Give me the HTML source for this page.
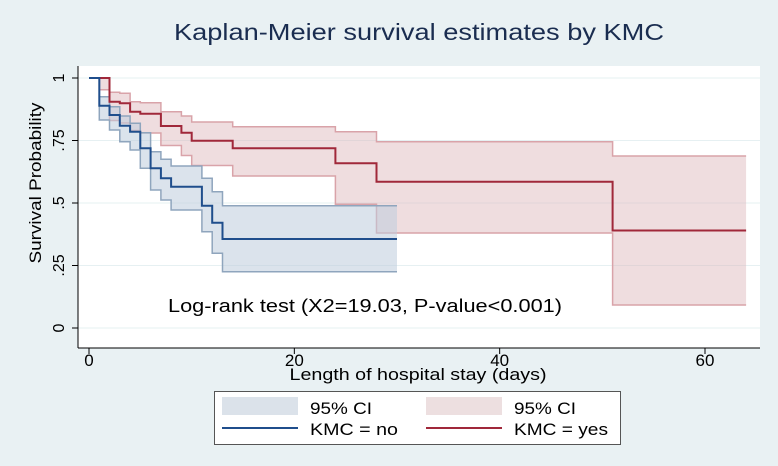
<!DOCTYPE html>
<html><head><meta charset="utf-8"><style>
body{margin:0;width:778px;height:466px;background:#e9f1f3;overflow:hidden;font-family:"Liberation Sans",sans-serif}
svg{display:block}
</style></head><body>
<svg id="c" width="778" height="466">
<rect x="78" y="66" width="682" height="282" fill="#fff"/>
<text x="419" y="40" text-anchor="middle" font-size="23" fill="#1a2d50" textLength="490" lengthAdjust="spacingAndGlyphs">Kaplan-Meier survival estimates by KMC</text>
<text transform="translate(41,183) rotate(-90)" text-anchor="middle" font-size="17" fill="#000" textLength="161" lengthAdjust="spacingAndGlyphs">Survival Probability</text>
<text x="418" y="380" text-anchor="middle" font-size="17" fill="#000" textLength="257" lengthAdjust="spacingAndGlyphs">Length of hospital stay (days)</text>
<text x="365" y="312" text-anchor="middle" font-size="18" fill="#000" textLength="394" lengthAdjust="spacingAndGlyphs">Log-rank test (X2=19.03, P-value&lt;0.001)</text>
<g id="grid"></g><g id="bands"></g><g id="lines"></g><g id="axes"></g>
<g>
<rect x="214.5" y="391.5" width="406" height="53" fill="#fff" stroke="#555"/>
<rect x="222" y="397" width="76" height="18" fill="#dbe2ea"/>
<text x="310" y="414" font-size="17" textLength="62" lengthAdjust="spacingAndGlyphs">95% CI</text>
<rect x="426" y="397" width="76" height="18" fill="#eddfe0"/>
<text x="514" y="414" font-size="17" textLength="62" lengthAdjust="spacingAndGlyphs">95% CI</text>
<line x1="222" y1="428" x2="298" y2="428" stroke="#1f4e8c" stroke-width="2"/>
<text x="310" y="435" font-size="17" textLength="88" lengthAdjust="spacingAndGlyphs">KMC = no</text>
<line x1="426" y1="428" x2="502" y2="428" stroke="#a0283a" stroke-width="2"/>
<text x="514" y="435" font-size="17" textLength="94" lengthAdjust="spacingAndGlyphs">KMC = yes</text>
</g>
</svg>
<script>
const noTimes=[0,1,2,3,4,5,6,7,8,11,12,13,30];
const noSurv=[1,0.889,0.852,0.809,0.785,0.719,0.639,0.599,0.565,0.489,0.421,0.356,0.356];
const noUpper=[1,0.925,0.885,0.848,0.819,0.781,0.705,0.675,0.648,0.599,0.545,0.489,0.489];
const noLower=[1,0.832,0.792,0.745,0.712,0.639,0.552,0.512,0.472,0.385,0.299,0.225,0.225];
const yesTimes=[0,1,2,3,4,5,7,9,10,14,24,28,51,64];
const yesSurv=[1,1,0.905,0.899,0.865,0.857,0.808,0.781,0.749,0.719,0.659,0.585,0.39,0.39];
const yesUpper=[1,1,0.943,0.939,0.905,0.901,0.865,0.848,0.824,0.805,0.785,0.745,0.688,0.688];
const yesLower=[1,0.953,0.83,0.82,0.79,0.78,0.73,0.69,0.65,0.608,0.495,0.38,0.092,0.092];
const xTicks=[0,20,40,60];
const yTicks=[0,0.25,0.5,0.75,1];
const yTickLabels=["0",".25",".5",".75","1"];
const X=t=>89+t*(705-89)/60, Y=s=>328-s*250;
const NS="http://www.w3.org/2000/svg";
function mk(tag,attrs,parent){const e=document.createElementNS(NS,tag);for(const k in attrs)e.setAttribute(k,attrs[k]);document.getElementById(parent).appendChild(e);return e;}
function stepPts(ts,ss){let p=[];for(let i=0;i<ts.length;i++){if(i>0)p.push([X(ts[i]),Y(ss[i-1])]);p.push([X(ts[i]),Y(ss[i])]);}return p;}
function str(p){return p.map(q=>q[0].toFixed(1)+","+q[1].toFixed(1)).join(" ");}
yTicks.forEach((v,i)=>{
 let g=mk("line",{x1:78,x2:760,y1:Y(v),y2:Y(v),stroke:"#e6f0f2","stroke-width":1},"grid");
 
 
 let tk=mk("line",{x1:72,x2:78,y1:Y(v),y2:Y(v),stroke:"#000"},"axes");
 
 
 let t=mk("text",{transform:`translate(64,${Y(v)}) rotate(-90)`,"text-anchor":"middle","font-size":"16"},"axes");
 t.textContent=yTickLabels[i];
 
 
});
xTicks.forEach(v=>{
 let tk=mk("line",{x1:X(v),x2:X(v),y1:348,y2:354,stroke:"#000"},"axes");
 
 
 let t=mk("text",{x:X(v),y:366,"text-anchor":"middle","font-size":"17"},"axes");
 t.textContent=v;
 
 
});
let ya=mk("line",{x1:78,x2:78,y1:66,y2:348,stroke:"#000"},"axes");


let xa=mk("line",{x1:78,x2:760,y1:348,y2:348,stroke:"#000"},"axes");


function band(ts,up,lo,fill,edge,name){
 const u=stepPts(ts,up),l=stepPts(ts,lo);
 let p=mk("polygon",{points:str(u.concat(l.slice().reverse())),fill:fill},"bands");
 
 
 let a=mk("polyline",{points:str(u),fill:"none",stroke:edge,"stroke-width":1.5},"bands");
 
 
 let b=mk("polyline",{points:str(l),fill:"none",stroke:edge,"stroke-width":1.5},"bands");
 
 
}
band(yesTimes,yesUpper,yesLower,"rgba(220,180,184,0.45)","#d9a3a9","yes");
band(noTimes,noUpper,noLower,"rgba(190,204,220,0.55)","#8fa5bd","no");
let ly=mk("polyline",{points:str(stepPts(yesTimes,yesSurv)),fill:"none",stroke:"#a0283a","stroke-width":2},"lines");


let ln=mk("polyline",{points:str(stepPts(noTimes,noSurv)),fill:"none",stroke:"#1f4e8c","stroke-width":2},"lines");


</script>
</body></html>
